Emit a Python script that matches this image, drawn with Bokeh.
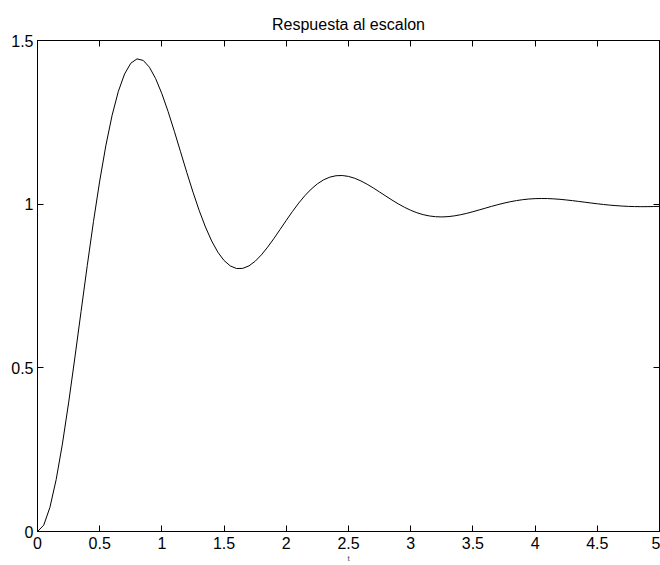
from bokeh.plotting import figure
from bokeh.models import LinearAxis, Range1d, FixedTicker, CustomLabelingPolicy
from bokeh.embed import file_html
from bokeh.resources import INLINE

title_text = "Respuesta al escalon"
x_label = "t"

t = [0.00, 0.05, 0.10, 0.15, 0.20, 0.25, 0.30, 0.35, 0.40, 0.45,
     0.50, 0.55, 0.60, 0.65, 0.70, 0.75, 0.80, 0.85, 0.90, 0.95,
     1.00, 1.05, 1.10, 1.15, 1.20, 1.25, 1.30, 1.35, 1.40, 1.45,
     1.50, 1.55, 1.60, 1.65, 1.70, 1.75, 1.80, 1.85, 1.90, 1.95,
     2.00, 2.05, 2.10, 2.15, 2.20, 2.25, 2.30, 2.35, 2.40, 2.45,
     2.50, 2.55, 2.60, 2.65, 2.70, 2.75, 2.80, 2.85, 2.90, 2.95,
     3.00, 3.05, 3.10, 3.15, 3.20, 3.25, 3.30, 3.35, 3.40, 3.45,
     3.50, 3.55, 3.60, 3.65, 3.70, 3.75, 3.80, 3.85, 3.90, 3.95,
     4.00, 4.05, 4.10, 4.15, 4.20, 4.25, 4.30, 4.35, 4.40, 4.45,
     4.50, 4.55, 4.60, 4.65, 4.70, 4.75, 4.80, 4.85, 4.90, 4.95,
     5.00]

y = [0.0000, 0.0193, 0.0739, 0.1585, 0.2670, 0.3929, 0.5299, 0.6717, 0.8125, 0.9469,
     1.0706, 1.1799, 1.2719, 1.3448, 1.3978, 1.4306, 1.4439, 1.4391, 1.4182, 1.3833,
     1.3372, 1.2828, 1.2227, 1.1600, 1.0971, 1.0366, 0.9804, 0.9303, 0.8876, 0.8532,
     0.8277, 0.8112, 0.8034, 0.8038, 0.8115, 0.8257, 0.8452, 0.8687, 0.8949, 0.9227,
     0.9507, 0.9779, 1.0034, 1.0263, 1.0460, 1.0621, 1.0744, 1.0826, 1.0869, 1.0875,
     1.0848, 1.0791, 1.0709, 1.0608, 1.0494, 1.0371, 1.0247, 1.0125, 1.0009, 0.9905,
     0.9814, 0.9738, 0.9680, 0.9640, 0.9617, 0.9610, 0.9619, 0.9642, 0.9676, 0.9719,
     0.9769, 0.9823, 0.9878, 0.9933, 0.9985, 1.0032, 1.0074, 1.0109, 1.0137, 1.0157,
     1.0169, 1.0173, 1.0171, 1.0162, 1.0148, 1.0129, 1.0108, 1.0084, 1.0060, 1.0035,
     1.0012, 0.9990, 0.9971, 0.9955, 0.9942, 0.9932, 0.9926, 0.9923, 0.9924, 0.9927,
     0.9933]

x_ticks = [0, 0.5, 1, 1.5, 2, 2.5, 3, 3.5, 4, 4.5, 5]
y_ticks = [0, 0.5, 1, 1.5]

FONT = "Liberation Sans"

p = figure(width=660, height=565, output_backend="svg", toolbar_location=None,
           x_range=Range1d(0, 5), y_range=Range1d(0, 1.5),
           x_axis_location=None, y_axis_location=None,
           min_border_left=37, min_border_right=1, min_border_top=40, min_border_bottom=34)

p.background_fill_color = "white"
p.border_fill_color = "white"
p.outline_line_color = "black"
p.outline_line_width = 1
p.xgrid.visible = False
p.ygrid.visible = False

p.title.text = title_text
p.title.align = "center"
p.title.text_font = FONT
p.title.text_font_size = "16px"
p.title.text_font_style = "normal"
p.title.text_color = "black"
p.title.standoff = 15

hide_all = CustomLabelingPolicy(code="""
    for (const i of Array.from(indices)) { indices.unset(i) }
    return indices
""")


def style_axis(ax, ticks, show_labels):
    ax.ticker = FixedTicker(ticks=ticks)
    ax.major_tick_in = 6
    ax.major_tick_out = 0
    ax.minor_tick_in = 0
    ax.minor_tick_out = 0
    ax.axis_line_color = "black"
    ax.major_tick_line_color = "black"
    ax.major_label_text_font = FONT
    ax.major_label_text_color = "black"
    if show_labels:
        ax.major_label_text_font_size = "16px"
        ax.major_label_standoff = 5
    else:
        ax.major_label_text_font_size = "0px"
        ax.major_label_policy = hide_all
        ax.major_label_standoff = 0


xb = LinearAxis()
style_axis(xb, x_ticks, True)
xb.axis_label = x_label
xb.axis_label_text_font = FONT
xb.axis_label_text_font_size = "8px"
xb.axis_label_text_font_style = "normal"
xb.axis_label_standoff = 2
p.add_layout(xb, "below")

yl = LinearAxis()
style_axis(yl, y_ticks, True)
yl.major_label_standoff = 4
p.add_layout(yl, "left")

xt = LinearAxis()
style_axis(xt, x_ticks, False)
p.add_layout(xt, "above")

yr = LinearAxis()
style_axis(yr, y_ticks, False)
p.add_layout(yr, "right")

p.line(t, y, line_color="black", line_width=1)

open("out.html", "w").write(file_html(p, INLINE))
